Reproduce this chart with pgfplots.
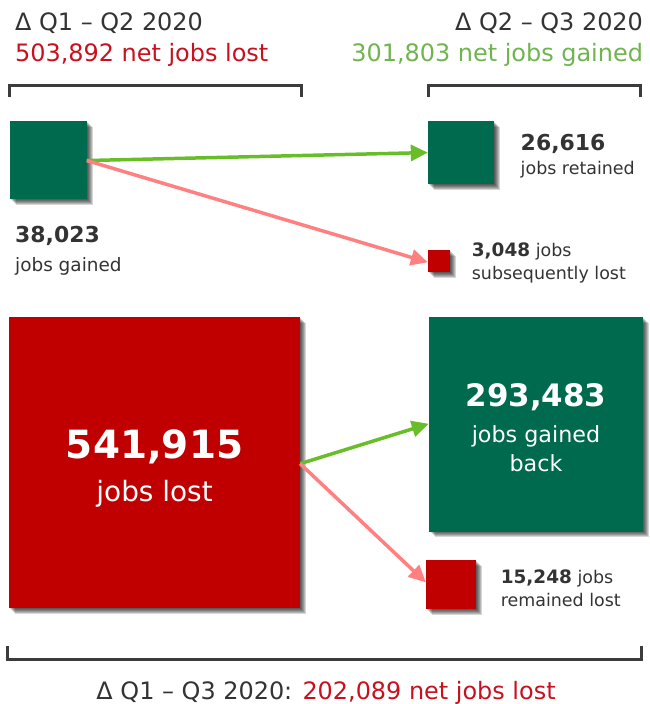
\documentclass[border=0pt]{standalone}
\usepackage{pgfplots}
\pgfplotsset{compat=1.18}
\usepackage{fontspec}
\setmainfont{DejaVu Sans}
\usetikzlibrary{arrows.meta}
\definecolor{dgreen}{RGB}{0,106,78}
\definecolor{dred}{RGB}{192,0,0}
\definecolor{lgreen}{RGB}{104,190,40}
\definecolor{pink}{RGB}{255,128,128}
\definecolor{tred}{RGB}{200,16,30}
\definecolor{tgreen}{RGB}{112,180,80}
\definecolor{txt}{RGB}{51,51,51}
\definecolor{brk}{RGB}{60,60,60}
\newcommand\fs[1]{\fontsize{#1}{#1}\selectfont}
\begin{document}
\begin{tikzpicture}
\begin{axis}[
  scale only axis, width=645pt, height=704pt,
  xmin=0, xmax=645, ymin=0, ymax=704, y dir=reverse,
  hide axis, clip=false,
]
\addplot[draw=none] coordinates {(0,0) (645,704)};
% shadows
\pgfplotsinvokeforeach{1,2,3,4,5,6}{
\addplot[fill=black, draw=none, opacity=0.16, xshift=#1pt, yshift=-#1pt] coordinates {(10,121) (87,121) (87,200) (10,200)} -- cycle;
\addplot[fill=black, draw=none, opacity=0.16, xshift=#1pt, yshift=-#1pt] coordinates {(429,121) (495,121) (495,185) (429,185)} -- cycle;
\addplot[fill=black, draw=none, opacity=0.16, xshift=#1pt, yshift=-#1pt] coordinates {(429,251) (451,251) (451,273) (429,273)} -- cycle;
\addplot[fill=black, draw=none, opacity=0.16, xshift=#1pt, yshift=-#1pt] coordinates {(9,318) (301,318) (301,610) (9,610)} -- cycle;
\addplot[fill=black, draw=none, opacity=0.16, xshift=#1pt, yshift=-#1pt] coordinates {(430,318) (645,318) (645,533) (430,533)} -- cycle;
\addplot[fill=black, draw=none, opacity=0.16, xshift=#1pt, yshift=-#1pt] coordinates {(427,562) (477,562) (477,611) (427,611)} -- cycle;
}
% squares
\addplot[fill=dgreen, draw=none] coordinates {(10,121) (87,121) (87,200) (10,200)} -- cycle;
\addplot[fill=dgreen, draw=none] coordinates {(429,121) (495,121) (495,185) (429,185)} -- cycle;
\addplot[fill=dred, draw=none] coordinates {(429,251) (451,251) (451,273) (429,273)} -- cycle;
\addplot[fill=dred, draw=none] coordinates {(9,318) (301,318) (301,610) (9,610)} -- cycle;
\addplot[fill=dgreen, draw=none] coordinates {(430,318) (645,318) (645,533) (430,533)} -- cycle;
\addplot[fill=dred, draw=none] coordinates {(427,562) (477,562) (477,611) (427,611)} -- cycle;
% arrows
\addplot[lgreen, line width=3.5pt, -{Triangle[length=17pt,width=16pt]}] coordinates {(87,161) (429,153)};
\addplot[pink, line width=3.5pt, -{Triangle[length=17pt,width=16pt]}] coordinates {(87,161) (429,263)};
\addplot[lgreen, line width=3.5pt, -{Triangle[length=17pt,width=16pt]}] coordinates {(301,465) (430,425)};
\addplot[pink, line width=3.5pt, -{Triangle[length=17pt,width=16pt]}] coordinates {(301,465) (427,584)};
% brackets
\addplot[brk, line width=3pt] coordinates {(10,97) (10,86) (302,86) (302,97)};
\addplot[brk, line width=3pt] coordinates {(430,97) (430,86) (642,86) (642,97)};
\addplot[brk, line width=3pt] coordinates {(8,648) (8,661) (643,661) (643,648)};
% texts
\node[anchor=base west, inner sep=0pt, text=txt, font=\fs{24}] at (axis cs:15,31) {Δ Q1 – Q2 2020};
\node[anchor=base west, inner sep=0pt, text=tred, font=\fs{24}] at (axis cs:15,62) {503,892 net jobs lost};
\node[anchor=base east, inner sep=0pt, text=txt, font=\fs{24}] at (axis cs:645,31) {Δ Q2 – Q3 2020};
\node[anchor=base east, inner sep=0pt, text=tgreen, font=\fs{24}] at (axis cs:645,62) {301,803 net jobs gained};

\node[anchor=base west, inner sep=0pt, text=txt, font=\fs{22}\bfseries] at (axis cs:15,243) {38,023};
\node[anchor=base west, inner sep=0pt, text=txt, font=\fs{18.5}] at (axis cs:15,272) {jobs gained};
\node[anchor=base west, inner sep=0pt, text=txt, font=\fs{22}\bfseries] at (axis cs:522,151) {26,616};
\node[anchor=base west, inner sep=0pt, text=txt, font=\fs{17.5}] at (axis cs:522,175) {jobs retained};
\node[anchor=base west, inner sep=0pt, text=txt, font=\fs{17.5}] at (axis cs:473,257) {{\fs{18.5}\bfseries 3,048} jobs};
\node[anchor=base west, inner sep=0pt, text=txt, font=\fs{17.5}] at (axis cs:473,280) {subsequently lost};

\node[anchor=base, inner sep=0pt, text=white, font=\fs{39}\bfseries] at (axis cs:155,460) {541,915};
\node[anchor=base, inner sep=0pt, text=white, font=\fs{28}] at (axis cs:155,503) {jobs lost};
\node[anchor=base, inner sep=0pt, text=white, font=\fs{31}\bfseries] at (axis cs:537.5,408) {293,483};
\node[anchor=base, inner sep=0pt, text=white, font=\fs{22.3}] at (axis cs:537.5,444) {jobs gained};
\node[anchor=base, inner sep=0pt, text=white, font=\fs{22.3}] at (axis cs:537.5,473) {back};

\node[anchor=base west, inner sep=0pt, text=txt, font=\fs{17.5}] at (axis cs:502,585) {{\fs{18.5}\bfseries 15,248} jobs};
\node[anchor=base west, inner sep=0pt, text=txt, font=\fs{17.5}] at (axis cs:502,608) {remained lost};

\node[anchor=base, inner sep=0pt, text=txt, font=\fs{24}] at (axis cs:327,701) {Δ Q1 – Q3 2020: \textcolor{tred}{202,089 net jobs lost}};
\end{axis}
\end{tikzpicture}
\end{document}
